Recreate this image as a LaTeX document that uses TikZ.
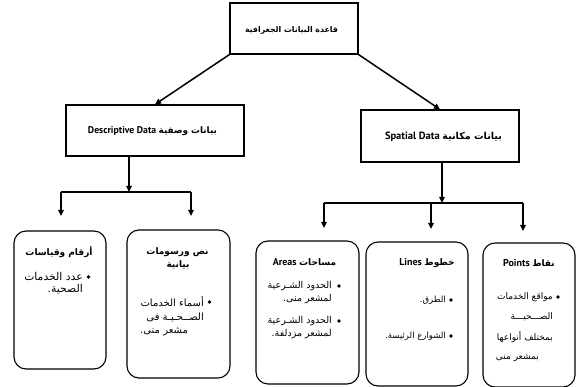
\documentclass[tikz,border=0pt]{standalone}
\usepackage{fontspec}
\usepackage{graphicx}
\newfontfamily\ar[Script=Arabic]{DejaVu Sans}
\newfontfamily\lat{PT Sans}
\TeXXeTstate=1
\usetikzlibrary{arrows.meta}
\newcommand\ab{\ar\fontsize{9.5}{11}\selectfont}
\newcommand\abf{\ar\fontsize{9}{11}\selectfont}
\newcommand\abl{\ar\fontsize{10}{12}\selectfont}
\newcommand\abx{\ar\fontsize{10.8}{12}\selectfont}
\newcommand\abs{\ar\fontsize{8.5}{10}\selectfont}
\newcommand\ah{\ar\bfseries\fontsize{10}{12}\selectfont}
\newcommand\ahh{\ar\bfseries\fontsize{9}{11}\selectfont}
\newcommand\lh{\lat\bfseries\fontsize{11}{13}\selectfont}
\newcommand\lhs{\lat\bfseries\fontsize{10}{12}\selectfont}
\newcommand\fw[2]{\resizebox{#1pt}{!}{#2}}
\begin{document}
\begin{tikzpicture}[x=1pt,y=-1pt,
  topbox/.style={draw, line width=1.2pt, inner sep=0pt},
  leaf/.style={draw, line width=1.1pt, rounded corners=12pt, inner sep=0pt},
  arr/.style={line width=1.5pt, -{Triangle[length=6pt,width=5.5pt]}},
  ln/.style={line width=1.5pt},
  tx/.style={inner sep=0pt, anchor=east},
  txw/.style={inner sep=0pt, anchor=west},
  hd/.style={inner sep=0pt},
  bul/.style={circle, fill, inner sep=0pt, minimum size=3.6pt}]
\useasboundingbox (0,0) rectangle (576,387);

% top level boxes
\node[topbox, minimum width=128pt, minimum height=51pt] (root) at (294,28.5) {};
\node[hd] (roott) at (291.5,30) {\fw{93}{\ah\beginR قاعدة البيانات الجغرافية\endR}};
\node[topbox, minimum width=178pt, minimum height=51pt] (desc) at (155,130.5) {};
\node[hd] (desct) at (152.5,131) {\fw{129}{\lh Descriptive Data\ \ah\beginR بيانات وصفية\endR}};
\node[topbox, minimum width=158pt, minimum height=52pt] (spat) at (440,136) {};
\node[hd] (spatt) at (443.5,137) {\fw{117}{\lh Spatial Data\ \ah\beginR بيانات مكانية\endR}};

\draw[arr] (root.south west) -- (desc.north);
\draw[arr] (root.south east) -- (spat.north);

% leaf boxes
\node[leaf, minimum width=92pt, minimum height=138pt] (L1) at (60,300) {};
\node[leaf, minimum width=103pt, minimum height=148pt] (L2) at (178.5,304) {};
\node[leaf, minimum width=103pt, minimum height=143pt] (L3) at (307.5,312.5) {};
\node[leaf, minimum width=102pt, minimum height=144pt] (L4) at (417,314) {};
\node[leaf, minimum width=92pt, minimum height=144pt] (L5) at (529,315) {};

% descriptive branch
\coordinate (dj) at (129,192);
\coordinate (dl) at (61,192);
\coordinate (dr) at (191,192);
\coordinate (dla) at (61,216);
\coordinate (dra) at (191,216);
\draw[arr] (desc.south -| dj) -- (dj);
\draw[ln] (dl) -- (dr);
\draw[arr] (dl) -- (dla);
\draw[arr] (dr) -- (dra);

% spatial branch
\coordinate (sj) at (442,203);
\coordinate (s1) at (324,203);
\coordinate (s2) at (431,203);
\coordinate (s3) at (523,203);
\coordinate (s1a) at (324,228);
\coordinate (s2a) at (431,229);
\coordinate (s3a) at (523,231);
\draw[arr] (spat.south -| sj) -- (sj);
\draw[ln] (s1) -- (s3);
\draw[arr] (s1) -- (s1a);
\draw[arr] (s2) -- (s2a);
\draw[arr] (s3) -- (s3a);

% box 1
\node[hd] (h1) at (59,252) {\ahh\beginR أرقام وقياسات\endR};
\node[bul] (u1) at (88.5,277) {};
\node[tx] (t1a) at (83,277) {\abx\beginR عدد الخدمات\endR};
\node[tx] (t1b) at (83,289) {\abx.\beginR الصحية\endR};

% box 2
\node[hd] (h2a) at (177.5,252) {\ahh\beginR نص ورسومات\endR};
\node[hd] (h2b) at (178,265) {\ahh\beginR بيانية\endR};
\node[bul] (u2) at (209.5,302) {};
\node[tx] (t2a) at (204,302) {\abl\beginR أسماء الخدمات\endR};
\node[tx] (t2b) at (204,317) {\abl\beginR الصــحـيـة فى\endR};
\node[txw] (t2c) at (140,332) {\abl.\beginR مشعر منى\endR};

% box 3
\node[hd] (h3) at (304.5,262) {\lhs Areas\ \ahh\beginR مساحات\endR};
\node[bul] (u3a) at (339,286) {};
\node[tx] (t3a) at (332,286) {\ab\beginR الحدود الشـرعية\endR};
\node[tx] (t3b) at (332,299) {\ab.\beginR لمشعر منى\endR};
\node[bul] (u3b) at (339,321) {};
\node[tx] (t3c) at (332,321) {\ab\beginR الحدود الشـرعية\endR};
\node[tx] (t3d) at (332,334) {\ab.\beginR لمشعر مزدلفة\endR};

% box 4
\node[hd] (h4) at (427,263) {\lhs Lines\ \ahh\beginR خطوط\endR};
\node[bul] (u4a) at (451,300) {};
\node[tx] (t4a) at (446,300) {\abs.\beginR الطرق\endR};
\node[bul] (u4b) at (451,336) {};
\node[tx] (t4b) at (446,336) {\abs.\beginR الشوارع الرئيسة\endR};

% box 5
\node[hd] (h5) at (529,263) {\lhs Points\ \ahh\beginR نقاط\endR};
\node[bul] (u5) at (558,297) {};
\node[tx] (t5a) at (553,297) {\abf\beginR مواقع الخدمات\endR};
\node[tx] (t5b) at (553,317) {\abf\beginR الصـــحيـــة\endR};
\node[tx] (t5c) at (553,337) {\abf\beginR بمختلف أنواعها\endR};
\node[tx] (t5d) at (539,358) {\abf\beginR بمشعر منى\endR};
\end{tikzpicture}
\end{document}
